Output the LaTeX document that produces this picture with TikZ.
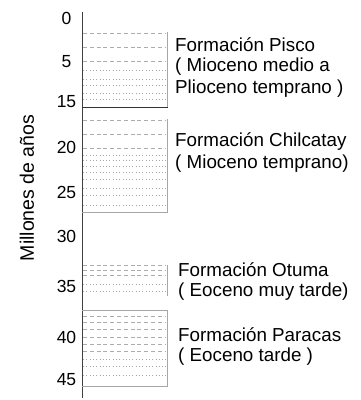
\documentclass[tikz,border=0pt]{standalone}
\usepackage{fontspec}
\setmainfont{Liberation Sans}
\tikzset{>=latex}
\tikzset{ sandline/.style={gray!65, line width=0.6pt, dash pattern=on 4pt off 2.8pt},
  siltline/.style={gray!70, line width=0.6pt, dash pattern=on 0.9pt off 2.4pt},
  boxedge/.style={gray!70, line width=0.8pt},
  agelabel/.style={font=\fontsize{17.5}{20}\selectfont, inner sep=0pt},
  unitlabel/.style={font=\fontsize{18.8}{22}\selectfont, anchor=west, inner sep=0pt} }

\begin{document}
\begin{tikzpicture}[x=1pt,y=-1pt]
  \useasboundingbox (0,0) rectangle (361,400);
  \coordinate (axtop) at (82,12);
  \coordinate (axbot) at (82,398);
  % age axis
  \draw[line width=0.9pt, black!75] (axtop) -- (axbot);
  \foreach \A/\Y in {0/18,5/62,15/102,20/147,25/192,30/236,35/286,40/337,45/380} { \node[agelabel] (age\A) at (66.5,\Y) {\A}; };
  \node[rotate=90, font=\fontsize{19.5}{22}\selectfont, inner sep=0pt] (ylabel) at (27,188) {Millones de años};
  % Pisco
  \foreach \Y in {33,47,61} { \draw[sandline] (83,\Y) -- (166,\Y); };
  \foreach \Y in {70,79,85,93,99} { \draw[siltline] (83,\Y) -- (166,\Y); };
  \draw[boxedge] (167,32) -- (167,107);
  \draw[line width=0.9pt, black!80] (82,107) -- (168,107);
  \node[unitlabel] (pisco) at (175,45) {Formación Pisco};
  \node[unitlabel] (pisco2) at (175,67) {( Mioceno medio a};
  \node[unitlabel] (pisco3) at (175,89) {Plioceno temprano )};
  % Chilcatay
  \foreach \Y in {120,134,148} { \draw[sandline] (83,\Y) -- (166,\Y); };
  \foreach \Y in {155,160,166,172,179,188,195,205} { \draw[siltline] (83,\Y) -- (166,\Y); };
  \draw[boxedge] (167,119) -- (167,212) -- (82,212);
  \node[unitlabel] (chilcatay) at (175,142) {Formación Chilcatay};
  \node[unitlabel] (chilcatay2) at (175,164) {( Mioceno temprano)};
  % Otuma
  \foreach \Y in {265,270,275} { \draw[sandline] (83,\Y) -- (166,\Y); };
  \foreach \Y in {284,291} { \draw[siltline] (83,\Y) -- (166,\Y); };
  \draw[boxedge] (167,265) -- (167,296);
  \node[unitlabel] (otuma) at (178,270) {Formación Otuma};
  \node[unitlabel] (otuma2) at (178,292) {( Eoceno muy tarde)};
  % Paracas
  \foreach \Y in {316,322,329,337,344,351} { \draw[sandline] (83,\Y) -- (166,\Y); };
  \foreach \Y in {359,366,375} { \draw[siltline] (83,\Y) -- (166,\Y); };
  \draw[boxedge] (82,310) -- (167,310) -- (167,386) -- (82,386);
  \node[unitlabel] (paracas) at (178,335) {Formación Paracas};
  \node[unitlabel] (paracas2) at (178,357) {( Eoceno tarde )};
\end{tikzpicture}
\end{document}
